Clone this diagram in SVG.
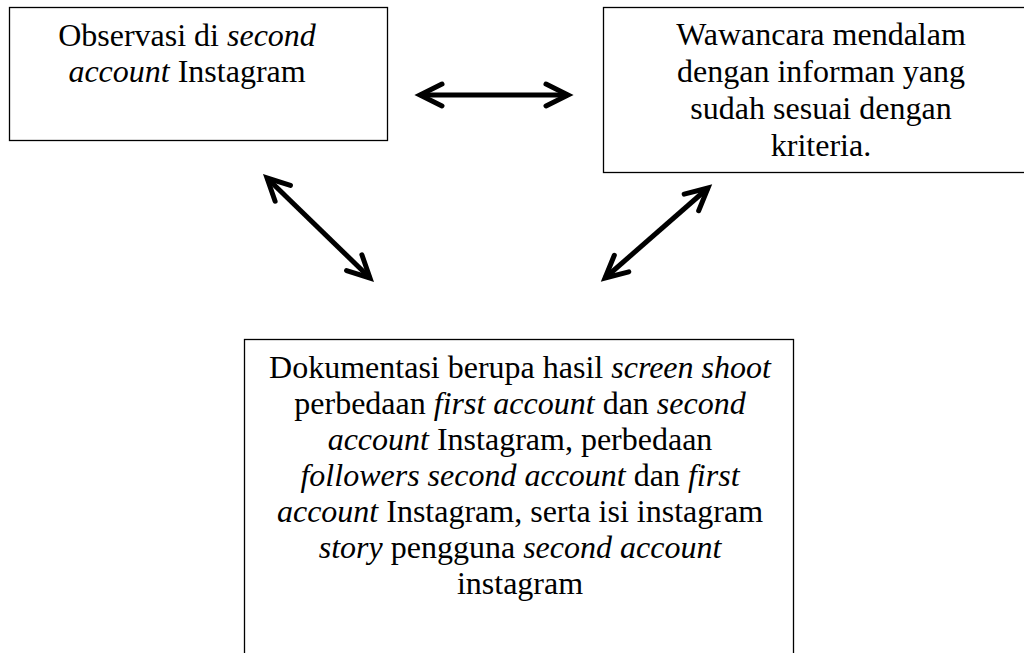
<svg xmlns="http://www.w3.org/2000/svg" width="1024" height="653" viewBox="0 0 1024 653">
<style>
.box{fill:#fff;stroke:#000;stroke-width:1.3}
.t{font-family:"Liberation Serif","Times New Roman",serif;font-size:32px;fill:#000;text-anchor:middle}
.i{font-style:italic}
.conn{stroke:#000;stroke-width:5;fill:none}
</style>
<defs>
<marker id="ah" markerUnits="userSpaceOnUse" markerWidth="40" markerHeight="40" viewBox="-30 -20 40 40" refX="0" refY="0" orient="auto-start-reverse" overflow="visible">
<path d="M-22,-11 L0,0 L-22,11" fill="none" stroke="#000" stroke-width="5" stroke-linecap="round" stroke-linejoin="miter"/>
</marker>
</defs>
<rect width="1024" height="653" fill="#fff"/>
<g id="node-observasi">
<rect class="box" x="9.5" y="7.5" width="378" height="133"/>
<text class="t" x="187" y="46">Observasi di <tspan class="i">second</tspan></text>
<text class="t" x="187" y="82"><tspan class="i">account</tspan> Instagram</text>
</g>
<g id="node-wawancara">
<rect class="box" x="603.5" y="7.5" width="450" height="165"/>
<text class="t" x="821" y="45">Wawancara mendalam</text>
<text class="t" x="821" y="82">dengan informan yang</text>
<text class="t" x="821" y="119">sudah sesuai dengan</text>
<text class="t" x="821" y="156">kriteria.</text>
</g>
<g id="node-dokumentasi">
<rect class="box" x="244.5" y="339.5" width="549" height="400"/>
<text class="t" x="520" y="378">Dokumentasi berupa hasil <tspan class="i">screen shoot</tspan></text>
<text class="t" x="520" y="414">perbedaan <tspan class="i">first account</tspan> dan <tspan class="i">second</tspan></text>
<text class="t" x="520" y="450"><tspan class="i">account</tspan> Instagram, perbedaan</text>
<text class="t" x="520" y="486"><tspan class="i">followers second account</tspan> dan <tspan class="i">first</tspan></text>
<text class="t" x="520" y="522"><tspan class="i">account</tspan> Instagram, serta isi instagram</text>
<text class="t" x="520" y="558"><tspan class="i">story</tspan> pengguna <tspan class="i">second account</tspan></text>
<text class="t" x="520" y="594">instagram</text>
</g>
<g id="connectors">
<line class="conn" x1="420" y1="95" x2="568" y2="95" marker-start="url(#ah)" marker-end="url(#ah)"/>
<line class="conn" x1="267" y1="178" x2="370" y2="278" marker-start="url(#ah)" marker-end="url(#ah)"/>
<line class="conn" x1="708" y1="188" x2="605" y2="278" marker-start="url(#ah)" marker-end="url(#ah)"/>
</g>
</svg>
